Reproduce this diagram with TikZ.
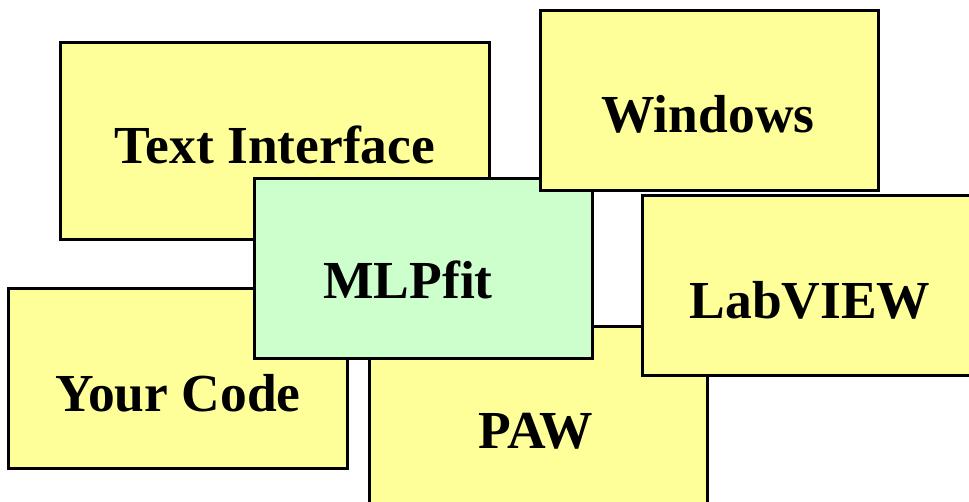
\documentclass[tikz,border=0pt]{standalone}
\usepackage{fontspec}
\setmainfont{Liberation Serif}
\definecolor{boxyellow}{HTML}{FFFF99}
\definecolor{boxgreen}{HTML}{CCFFCC}
\tikzset{
  panel/.style={draw=black, line width=3pt, rectangle, anchor=north west, inner sep=0pt, outer sep=0pt},
  ypanel/.style={panel, fill=boxyellow},
  gpanel/.style={panel, fill=boxgreen},
  label/.style={anchor=base, inner sep=0pt, font=\fontsize{53.5}{60}\selectfont\bfseries}
}
\begin{document}
\begin{tikzpicture}[x=1pt,y=-1pt]
\useasboundingbox (0,0) rectangle (969,501);
\node[ypanel, minimum width=429pt, minimum height=197pt] (tibox) at (60,42) {};
\node[label] (ti) at (275,163) {Text Interface};
\node[ypanel, minimum width=339pt, minimum height=180pt] (ycbox) at (8,288) {};
\node[label] (yc) at (178,411) {Your Code};
\node[ypanel, minimum width=338pt, minimum height=200pt] (pawbox) at (369,326) {};
\node[label] (paw) at (536,448) {PAW};
\node[ypanel, minimum width=340pt, minimum height=180pt] (lvbox) at (642,195) {};
\node[label] (lv) at (810,318) {LabVIEW};
\node[gpanel, minimum width=338pt, minimum height=180pt] (mlpbox) at (254,178) {};
\node[label] (mlp) at (408,298) {MLPfit};
\node[ypanel, minimum width=338pt, minimum height=180pt] (winbox) at (540,10) {};
\node[label] (win) at (708,132) {Windows};
\end{tikzpicture}
\end{document}
